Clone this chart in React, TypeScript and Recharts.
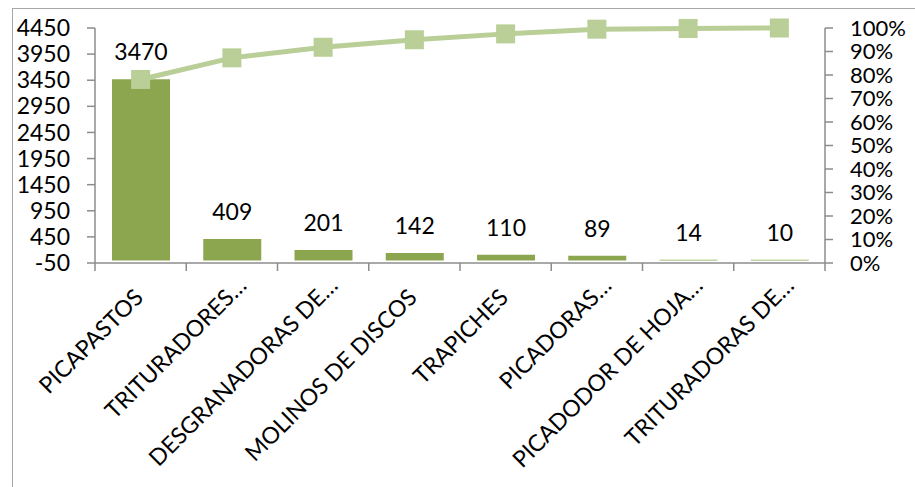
import { Bar, ComposedChart, LabelList, Line, XAxis, YAxis } from "recharts"

const categories = [
  "PICAPASTOS",
  "TRITURADORES…",
  "DESGRANADORAS DE…",
  "MOLINOS DE DISCOS",
  "TRAPICHES",
  "PICADORAS…",
  "PICADODOR DE HOJA…",
  "TRITURADORAS DE…",
]
const counts = [3470, 409, 201, 142, 110, 89, 14, 10]
const cumulativePct = [78.1, 87.3, 91.8, 95.0, 97.5, 99.5, 99.8, 100]

const leftTicks = [-50, 450, 950, 1450, 1950, 2450, 2950, 3450, 3950, 4450]
const rightTicks = [0, 10, 20, 30, 40, 50, 60, 70, 80, 90, 100]

const data = categories.map((name, i) => ({
  name,
  count: counts[i],
  pct: cumulativePct[i],
}))

const FONT = "Lato, 'Open Sans', sans-serif"
const AXIS = "#8c8c8c"
const BAR = "#8ba64f"
const LINE = "#b9cf97"

function CategoryTick(props: any) {
  const { x, y, payload, index } = props
  const half = payload.offset || 45.6
  const label: string = payload.value
  const cut = label.endsWith("…")
  const px = x + 4
  const py = y + 36
  return (
    <g>
      <line x1={x - half} y1={y} x2={x - half} y2={y + 8} stroke={AXIS} strokeWidth={1.5} />
      {index === categories.length - 1 && (
        <line x1={x + half} y1={y} x2={x + half} y2={y + 8} stroke={AXIS} strokeWidth={1.5} />
      )}
      <text
        x={px}
        y={py}
        dx={cut ? 17 : 0}
        textAnchor="end"
        transform={`rotate(-45, ${px}, ${py})`}
        fontSize={23}
        fontFamily={FONT}
        fill="#000"
      >
        {label}
      </text>
    </g>
  )
}

function SquareDot(props: any) {
  const { cx, cy, index } = props
  return <rect key={`dot-${index}`} x={cx - 9.5} y={cy - 9.5} width={19} height={19} fill={LINE} />
}

export default function App() {
  return (
    <div style={{ position: "fixed", left: 0, top: 0, width: 915, height: 487, overflow: "hidden", background: "#fff" }}>
      <div
        style={{
          position: "absolute",
          left: 12,
          top: 8,
          width: 1000,
          height: 600,
          border: "1.5px solid #a6a6a6",
        }}
      />
      <div style={{ position: "absolute", left: 0, top: 0 }}>
        <ComposedChart width={915} height={487} data={data} margin={{ top: 28, right: 10, left: 15, bottom: 0 }}>
          <XAxis
            dataKey="name"
            height={224}
            interval={0}
            tickLine={false}
            tickSize={0}
            tickMargin={0}
            axisLine={{ stroke: AXIS, strokeWidth: 1.5 }}
            tick={<CategoryTick />}
          />
          <YAxis
            yAxisId="left"
            width={80}
            domain={[-50, 4450]}
            ticks={leftTicks}
            interval={0}
            tickSize={8}
            tickMargin={17}
            axisLine={{ stroke: AXIS, strokeWidth: 1.5 }}
            tickLine={{ stroke: AXIS, strokeWidth: 1.5 }}
            tick={{ fill: "#000", fontSize: 23, fontFamily: FONT }}
          />
          <YAxis
            yAxisId="right"
            orientation="right"
            width={80}
            domain={[0, 100]}
            ticks={rightTicks}
            interval={0}
            tickSize={8}
            tickMargin={17}
            axisLine={{ stroke: AXIS, strokeWidth: 1.5 }}
            tickLine={{ stroke: AXIS, strokeWidth: 1.5 }}
            tick={{ fill: "#000", fontSize: 22, fontFamily: FONT, textAnchor: "start" }}
            tickFormatter={(v) => `${v}%`}
          />
          <Bar yAxisId="left" dataKey="count" fill={BAR} barSize={58} isAnimationActive={false}>
            <LabelList dataKey="count" position="top" offset={19} fill="#000" fontSize={23} fontFamily={FONT} />
          </Bar>
          <Line
            yAxisId="right"
            dataKey="pct"
            stroke={LINE}
            strokeWidth={5}
            dot={SquareDot}
            activeDot={false}
            isAnimationActive={false}
          />
        </ComposedChart>
      </div>
    </div>
  )
}
